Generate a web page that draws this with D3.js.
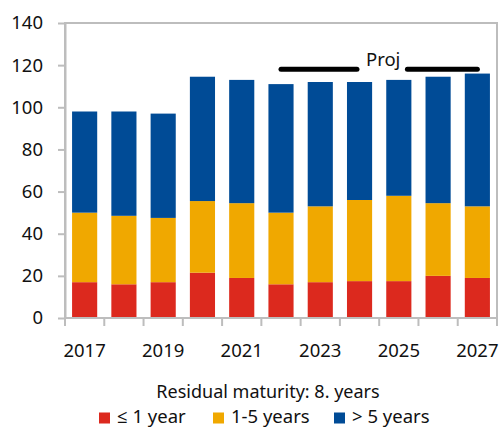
<!DOCTYPE html>
<html>
<head>
<meta charset="utf-8">
<script src="https://cdn.jsdelivr.net/npm/d3@7"></script>
<style>
  html, body { margin: 0; padding: 0; background: #fff; }
  svg { display: block; font-family: "Noto Sans", "Open Sans", sans-serif; }
</style>
</head>
<body>
<svg id="chart" width="499" height="428"></svg>
<script>
// Debt by residual maturity, stacked per year
const years = ["2017","2018","2019","2020","2021","2022","2023","2024","2025","2026","2027"];
const upTo1Year = [17, 16, 17, 21.5, 19, 16, 17, 17.5, 17.5, 20, 19];
const oneToFive = [33, 32.5, 30.5, 34, 35.5, 34, 36, 38.5, 40.5, 34.5, 34];
const overFive  = [48, 49.5, 49.5, 59, 58.5, 61, 59, 56, 55, 60, 63];
const yTicks = [0, 20, 40, 60, 80, 100, 120, 140];
const xLabels = ["2017","2019","2021","2023","2025","2027"];
const seriesNames = ["≤ 1 year", "1-5 years", "> 5 years"];
const seriesColors = ["#dc291e", "#f0a800", "#004b96"];
const projStart = "2022", projEnd = "2027";
const projLabel = "Proj";
const projLevel = 118;
const legendTitle = "Residual maturity: 8. years";

const svg = d3.select("#chart");
const m = { left: 65, right: 2, top: 23, bottom: 110 };
const W = 499, H = 428;
const x0 = m.left, x1 = W - m.right, y0 = H - m.bottom, y1 = m.top;

const x = d3.scaleBand().domain(years).range([x0, x1]).paddingInner(0.36).paddingOuter(0.18);
const y = d3.scaleLinear().domain([0, 140]).range([y0, y1]);

const rows = years.map((yr, i) => ({ year: yr, s0: upTo1Year[i], s1: oneToFive[i], s2: overFive[i] }));
const stacked = d3.stack().keys(["s0", "s1", "s2"])(rows);

// plot frame
const gridColor = "#bdbdbd";
svg.append("rect")
  .attr("x", x0).attr("y", y1).attr("width", x1 - x0).attr("height", y0 - y1)
  .attr("fill", "none").attr("stroke", gridColor).attr("stroke-width", 2);

// bars
svg.append("g").selectAll("g").data(stacked).join("g")
  .attr("fill", (d, i) => seriesColors[i])
  .selectAll("rect").data(d => d).join("rect")
  .attr("x", d => x(d.data.year))
  .attr("width", x.bandwidth())
  .attr("y", d => y(d[1]))
  .attr("height", d => y(d[0]) - y(d[1]));

// y axis
const yAxis = svg.append("g").attr("transform", `translate(${x0},0)`)
  .call(d3.axisLeft(y).tickValues(yTicks).tickSize(7).tickPadding(15).tickSizeOuter(0));
yAxis.select(".domain").attr("stroke", gridColor).attr("stroke-width", 2);
yAxis.selectAll(".tick line").attr("stroke", gridColor).attr("stroke-width", 2);
yAxis.selectAll(".tick text").attr("font-size", 18.5).attr("fill", "#111").attr("font-family", "Noto Sans, sans-serif");

// x axis: ticks on band boundaries, labels every other year
const boundaries = years.map(yr => x(yr) - x.step() * x.paddingInner() / 2).concat([x1]);
const xg = svg.append("g");
xg.selectAll("line").data(boundaries).join("line")
  .attr("x1", d => d).attr("x2", d => d)
  .attr("y1", y0).attr("y2", y0 + 8)
  .attr("stroke", gridColor).attr("stroke-width", 2);
xg.append("line").attr("x1", x0).attr("x2", x1).attr("y1", y0).attr("y2", y0)
  .attr("stroke", gridColor).attr("stroke-width", 2);
xg.selectAll("text").data(xLabels).join("text")
  .attr("x", d => x(d) + x.bandwidth() / 2)
  .attr("y", y0 + 39)
  .attr("text-anchor", "middle")
  .attr("font-size", 18.5).attr("fill", "#111")
  .text(d => d);

// projection bracket
const px0 = x(projStart) + x.bandwidth() / 2;
const px1 = x(projEnd) + x.bandwidth() / 2;
const py = y(projLevel);
const pcx = (px0 + px1) / 2 + 4;
const pText = svg.append("text")
  .attr("x", pcx).attr("y", py - 3)
  .attr("text-anchor", "middle").attr("font-size", 18.5).attr("fill", "#111")
  .text(projLabel);
const tw = pText.node().getComputedTextLength();
svg.append("line").attr("x1", px0).attr("x2", pcx - tw / 2 - 9).attr("y1", py).attr("y2", py)
  .attr("stroke", "#000").attr("stroke-width", 5).attr("stroke-linecap", "round");
svg.append("line").attr("x1", pcx + tw / 2 + 7).attr("x2", px1).attr("y1", py).attr("y2", py)
  .attr("stroke", "#000").attr("stroke-width", 5).attr("stroke-linecap", "round");

// legend
svg.append("text").attr("x", 268).attr("y", 397.5)
  .attr("text-anchor", "middle").attr("font-size", 18).attr("fill", "#111")
  .text(legendTitle);
const legendX = [99, 213, 334];
const lg = svg.append("g").selectAll("g").data(seriesNames).join("g")
  .attr("transform", (d, i) => `translate(${legendX[i]},412.5)`);
lg.append("rect").attr("width", 11).attr("height", 11).attr("fill", (d, i) => seriesColors[i]);
lg.append("text").attr("x", 18).attr("y", 10).attr("font-size", 18.5).attr("fill", "#111").text(d => d);
</script>
</body>
</html>
